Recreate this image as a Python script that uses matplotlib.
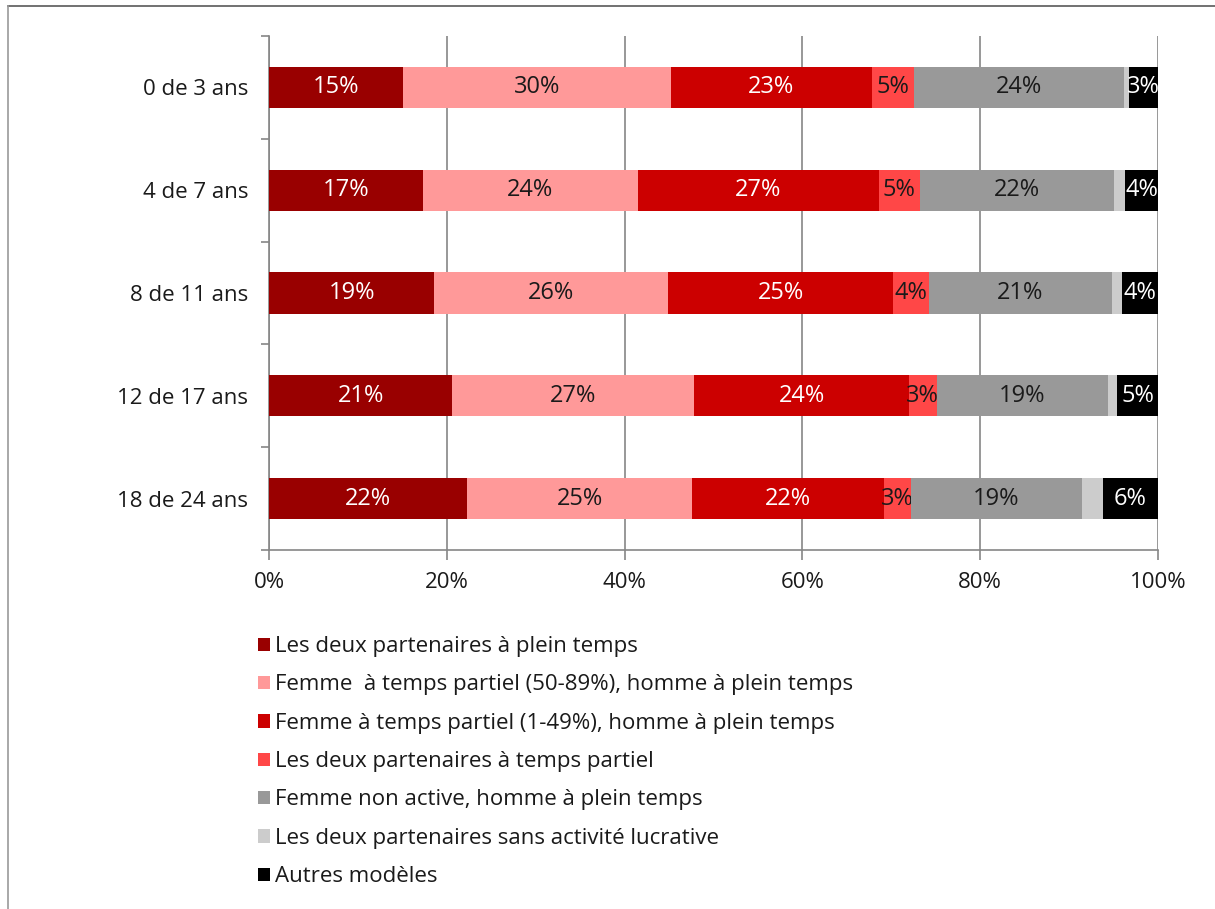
import matplotlib
matplotlib.use("Agg")
import matplotlib.pyplot as plt
from matplotlib.patches import Patch
from matplotlib.lines import Line2D
from matplotlib.ticker import FuncFormatter, FixedLocator

plt.rcParams["font.family"] = ["Open Sans", "DejaVu Sans"]

# Age of the youngest child
ages = ["0 de 3 ans", "4 de 7 ans", "8 de 11 ans", "12 de 17 ans", "18 de 24 ans"]

# Share of couples per employment model (%)
both_full = [15.1, 17.3, 18.6, 20.6, 22.3]
part_50_89 = [30.1, 24.2, 26.3, 27.2, 25.3]
part_1_49 = [22.6, 27.1, 25.3, 24.2, 21.6]
both_part = [4.8, 4.6, 4.0, 3.1, 3.0]
woman_inactive = [23.6, 21.9, 20.6, 19.3, 19.2]
both_inactive = [0.5, 1.2, 1.2, 1.0, 2.4]
other = [3.3, 3.7, 4.0, 4.6, 6.2]

series = [
    ("Les deux partenaires à plein temps", both_full, "#990000", "white"),
    ("Femme  à temps partiel (50-89%), homme à plein temps", part_50_89, "#ff9999", "#1a1a1a"),
    ("Femme à temps partiel (1-49%), homme à plein temps", part_1_49, "#cc0000", "white"),
    ("Les deux partenaires à temps partiel", both_part, "#ff4747", "#1a1a1a"),
    ("Femme non active, homme à plein temps", woman_inactive, "#999999", "#1a1a1a"),
    ("Les deux partenaires sans activité lucrative", both_inactive, "#cccccc", None),
    ("Autres modèles", other, "#000000", "white"),
]

GRID = "#868686"
FS = 16

fig = plt.figure(figsize=(12.15, 9.09), dpi=100)
ax = fig.add_axes([269 / 1215, 1 - 550 / 909, 889 / 1215, 514 / 909])

ypos = list(range(len(ages)))
left = [0.0] * len(ages)
handles = []
for label, vals, color, txt in series:
    bars = ax.barh(ypos, vals, height=0.4, left=left, color=color, linewidth=0, zorder=3)
    if txt is not None:
        ax.bar_label(bars, labels=[f"{round(v)}%" for v in vals], label_type="center",
                     color=txt, fontsize=17)
    left = [a + b for a, b in zip(left, vals)]
    handles.append(Patch(facecolor=color, edgecolor="none", label=label))

ax.set_xlim(0, 100)
ax.set_ylim(len(ages) - 0.5, -0.5)
ax.xaxis.set_major_locator(FixedLocator([0, 20, 40, 60, 80, 100]))
ax.xaxis.set_major_formatter(FuncFormatter(lambda v, _: f"{v:.0f}%"))
ax.set_yticks(ypos)
ax.set_yticklabels(ages)
ax.yaxis.set_minor_locator(FixedLocator([i - 0.5 for i in range(len(ages) + 1)]))
ax.tick_params(axis="y", which="major", length=0, pad=15, labelsize=FS, labelcolor="#1a1a1a")
ax.tick_params(axis="y", which="minor", length=6, width=1.2, color=GRID, direction="out")
ax.tick_params(axis="x", length=7, width=1.2, color=GRID, direction="out", pad=9,
               labelsize=FS, labelcolor="#1a1a1a")
ax.grid(axis="x", color=GRID, lw=1.2, zorder=0)
for s in ("top", "right"):
    ax.spines[s].set_visible(False)
for s in ("left", "bottom"):
    ax.spines[s].set_color(GRID)
    ax.spines[s].set_linewidth(1.2)

fig.legend(handles=handles, loc="upper left", bbox_to_anchor=(247 / 1215, 1 - 625 / 909),
           frameon=False, fontsize=FS, handlelength=0.55, handleheight=0.55,
           handletextpad=0.2, labelspacing=0.78, borderpad=0, labelcolor="#1a1a1a")

# outer frame
fig.add_artist(Line2D([8 / 1215, 1], [1 - 6 / 909] * 2, color="#595959", lw=1.2))
fig.add_artist(Line2D([8 / 1215] * 2, [0, 1 - 6 / 909], color="#9a9a9a", lw=1.2))

fig.savefig("out.png", dpi=100)
